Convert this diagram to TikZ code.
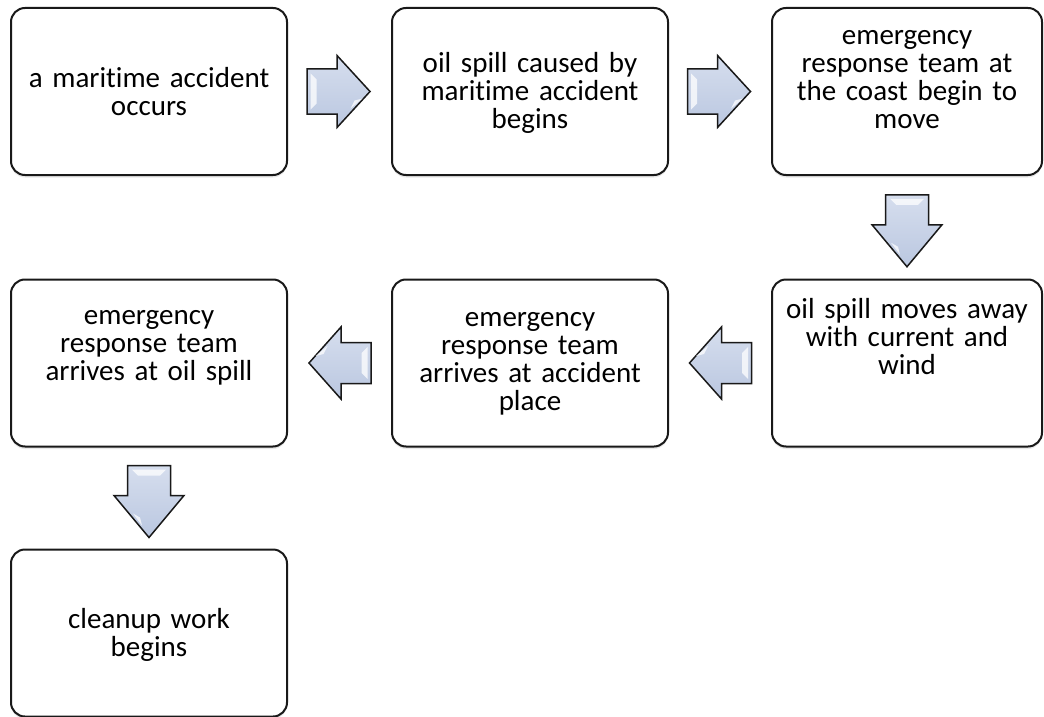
\documentclass[tikz,border=0pt]{standalone}
\usepackage{fontspec}
\setmainfont{Carlito}[Ligatures=NoCommon]
\usetikzlibrary{calc,shadows}
\definecolor{arrowtop}{RGB}{214,222,238}
\definecolor{arrowbot}{RGB}{186,199,224}
\definecolor{boxline}{RGB}{25,25,25}
\begin{document}
\begin{tikzpicture}[x=1pt,y=-1pt,
  box/.style={draw=boxline, line width=2pt, rounded corners=14pt, fill=white,
    drop shadow={shadow xshift=0pt, shadow yshift=-2.5pt, opacity=0.18},
    inner sep=0pt, minimum width=276pt, minimum height=167pt},
  boxtext/.style={text width=265pt, align=center, inner sep=0pt,
    font=\fontsize{29}{28}\selectfont},
  blockarrow/.style={draw=boxline, line width=1.5pt, line join=miter,
    top color=arrowtop, bottom color=arrowbot},
  shine/.style={fill=white, fill opacity=0.75, draw=none}]
\useasboundingbox (0,0) rectangle (1044,717);

\node[box] (b1) at (149,91.5) {};
\node[box] (b2) at (530,91.5) {};
\node[box, minimum width=270pt] (b3) at (907,91.5) {};
\node[box, minimum width=270pt] (b6) at (907,363) {};
\node[box] (b5) at (530,363) {};
\node[box] (b4) at (149,363) {};
\node[box] (b7) at (149,633) {};

\node[boxtext] (t1) at ($(b1.center)+(0,0.5)$) {a maritime accident\\occurs};
\node[boxtext] (t2) at ($(b2.center)+(0,1.5)$) {oil spill caused by\\maritime accident\\begins};
\node[boxtext] (t3) at ($(b3.center)+(0,-12)$) {emergency\\response team at\\the coast begin to\\move};
\node[boxtext] (t6) at ($(b6.center)+(0,-26)$) {oil spill moves away\\with current and\\wind};
\node[boxtext] (t5) at ($(b5.center)+(0,0.5)$) {emergency\\response team\\arrives at accident\\place};
\node[boxtext] (t4) at ($(b4.center)+(0,-15.5)$) {emergency\\response team\\arrives at oil spill};
\node[boxtext] (t7) at ($(b7.center)+(0,1.5)$) {cleanup work\\begins};

% right arrows
\coordinate (m12) at ($(b1.east)!0.5!(b2.west)+(-1,0)$);
\coordinate (m23) at ($(b2.east)!0.5!(b3.west)+(-1,0)$);
\foreach \m in {m12,m23}{
  \draw[blockarrow] ($(\m)+(-31.5,-22.5)$) -- ($(\m)+(-1.5,-22.5)$) -- ($(\m)+(-1.5,-36)$)
    -- ($(\m)+(31.5,0)$) -- ($(\m)+(-1.5,36)$) -- ($(\m)+(-1.5,22.5)$)
    -- ($(\m)+(-31.5,22.5)$) -- cycle;
  \fill[shine] ($(\m)+(-28,-18)$) -- ($(\m)+(-22,-12)$) -- ($(\m)+(-22,12)$) -- ($(\m)+(-28,18)$) -- cycle;
  \fill[shine] ($(\m)+(12,17)$) -- ($(\m)+(16,9)$) -- ($(\m)+(24,7)$) -- cycle;
}
% left arrows
\coordinate (m65) at ($(b6.west)!0.5!(b5.east)$);
\coordinate (m54) at ($(b5.west)!0.5!(b4.east)$);
\foreach \m in {m65,m54}{
  \draw[blockarrow] ($(\m)+(31.5,-20.5)$) -- ($(\m)+(1.5,-20.5)$) -- ($(\m)+(1.5,-36)$)
    -- ($(\m)+(-30.5,0)$) -- ($(\m)+(1.5,36)$) -- ($(\m)+(1.5,20.5)$)
    -- ($(\m)+(31.5,20.5)$) -- cycle;
  \fill[shine] ($(\m)+(28,-16)$) -- ($(\m)+(22,-10)$) -- ($(\m)+(22,10)$) -- ($(\m)+(28,16)$) -- cycle;
  \fill[shine] ($(\m)+(-12,-17)$) -- ($(\m)+(-16,-9)$) -- ($(\m)+(-24,-7)$) -- cycle;
}
% down arrows
\coordinate (m36) at ($(b3.south)!0.5!(b6.north)+(0,3.5)$);
\coordinate (m47) at ($(b4.south)!0.5!(b7.north)+(0,3.5)$);
\foreach \m in {m36,m47}{
  \draw[blockarrow] ($(\m)+(-21.5,-36)$) -- ($(\m)+(21.5,-36)$) -- ($(\m)+(21.5,-6)$)
    -- ($(\m)+(35,-6)$) -- ($(\m)+(0,36)$) -- ($(\m)+(-35,-6)$)
    -- ($(\m)+(-21.5,-6)$) -- cycle;
  \fill[shine] ($(\m)+(-17,-32)$) -- ($(\m)+(17,-32)$) -- ($(\m)+(11,-26)$) -- ($(\m)+(-11,-26)$) -- cycle;
  \fill[shine] ($(\m)+(-16,12)$) -- ($(\m)+(-9,16)$) -- ($(\m)+(-7,24)$) -- cycle;
}
\end{tikzpicture}
\end{document}
